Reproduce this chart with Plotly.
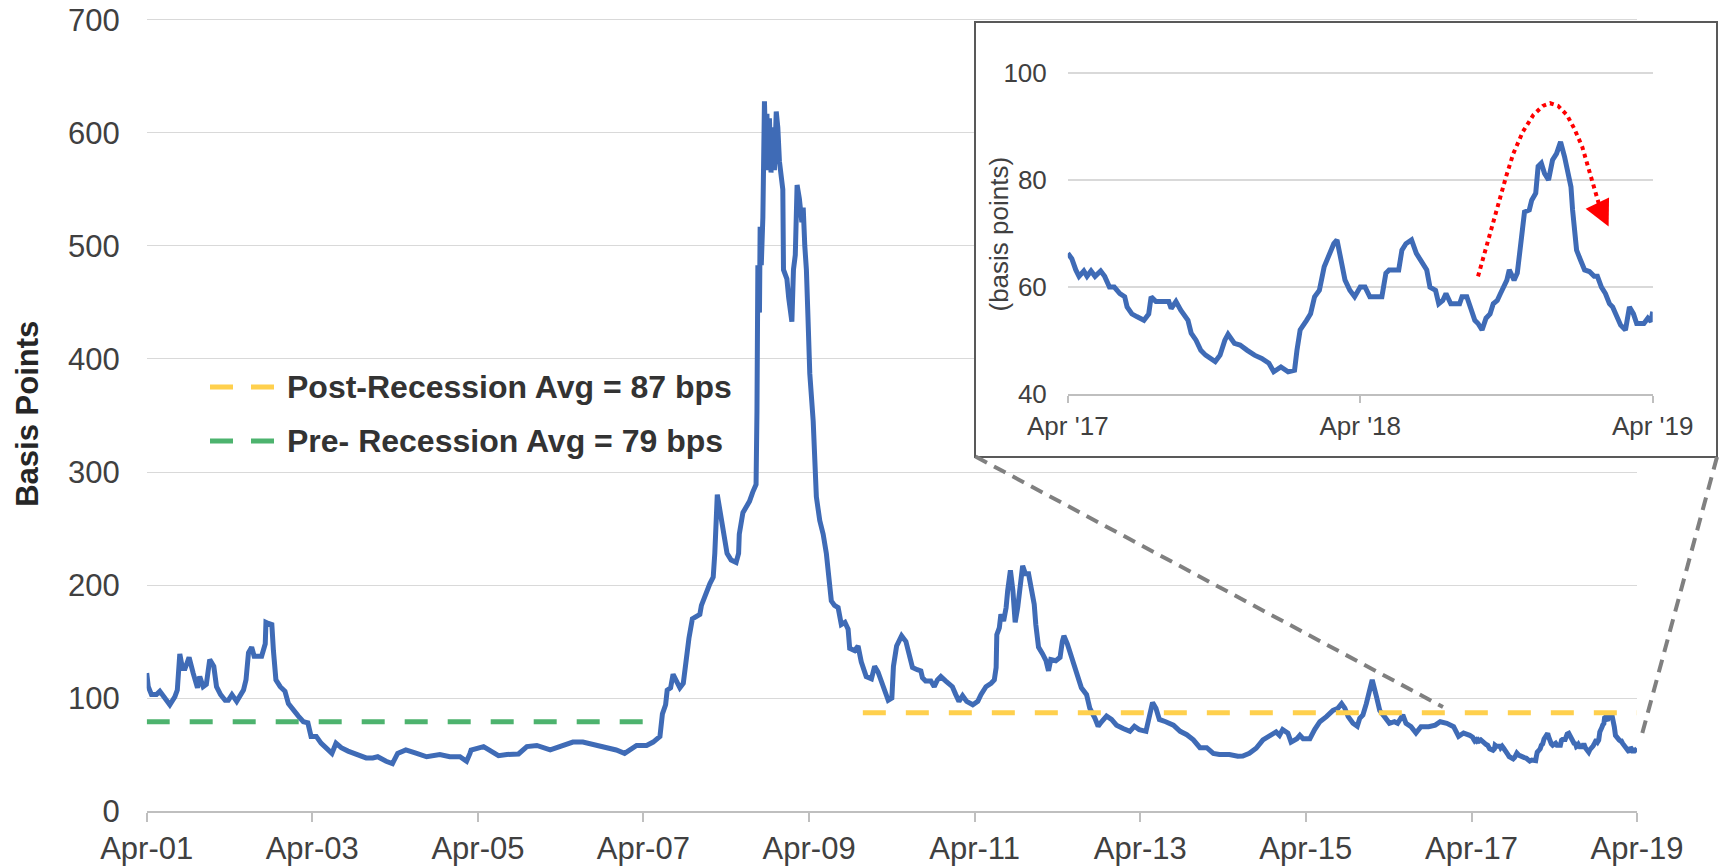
import plotly.graph_objects as go

# ---------------- data ----------------
# Spread in basis points, main history (Apr 2001 - Mar 2017)
main_dates = [
    "2001-04-01", "2001-04-08", "2001-04-22", "2001-05-14", "2001-05-29", "2001-06-20", "2001-07-12",
    "2001-08-03", "2001-08-14", "2001-08-25", "2001-09-06", "2001-09-17", "2001-10-05", "2001-10-23",
    "2001-11-11", "2001-11-21", "2001-12-06", "2001-12-20", "2002-01-04", "2002-01-22", "2002-02-03",
    "2002-02-21", "2002-03-13", "2002-03-27", "2002-04-12", "2002-05-03", "2002-05-18", "2002-06-02",
    "2002-06-13", "2002-06-24", "2002-07-08", "2002-07-19", "2002-08-07", "2002-08-21", "2002-09-06",
    "2002-09-09", "2002-09-20", "2002-10-05", "2002-10-12", "2002-10-23", "2002-11-11", "2002-12-02",
    "2002-12-17", "2003-01-08", "2003-01-30", "2003-02-21", "2003-03-13", "2003-03-27", "2003-04-19",
    "2003-05-10", "2003-06-02", "2003-06-27", "2003-07-15", "2003-08-07", "2003-09-06", "2003-10-12",
    "2003-11-25", "2003-12-24", "2004-01-15", "2004-02-21", "2004-03-20", "2004-04-12", "2004-05-18",
    "2004-07-05", "2004-08-18", "2004-10-15", "2004-11-28", "2005-01-12", "2005-02-10", "2005-02-25",
    "2005-03-02", "2005-04-26", "2005-05-25", "2005-07-01", "2005-08-07", "2005-09-27", "2005-11-03",
    "2005-12-17", "2006-02-14", "2006-03-27", "2006-05-25", "2006-07-08", "2006-08-21", "2006-10-19",
    "2006-12-02", "2007-01-08", "2007-02-03", "2007-03-02", "2007-04-15", "2007-05-14", "2007-06-13",
    "2007-06-24", "2007-07-08", "2007-07-15", "2007-07-30", "2007-08-10", "2007-08-25", "2007-09-09",
    "2007-09-24", "2007-10-08", "2007-10-19", "2007-11-03", "2007-11-21", "2007-12-06", "2007-12-13",
    "2007-12-27", "2008-01-19", "2008-02-03", "2008-02-10", "2008-02-21", "2008-03-02", "2008-03-16",
    "2008-04-04", "2008-04-22", "2008-05-14", "2008-05-25", "2008-05-28", "2008-06-13", "2008-06-27",
    "2008-07-12", "2008-07-26", "2008-08-10", "2008-08-14", "2008-08-18", "2008-08-25", "2008-08-28",
    "2008-09-02", "2008-09-09", "2008-09-16", "2008-09-24", "2008-09-27", "2008-10-01", "2008-10-08",
    "2008-10-15", "2008-10-23", "2008-10-30", "2008-11-07", "2008-11-14", "2008-11-21", "2008-12-06",
    "2008-12-09", "2008-12-24", "2009-01-01", "2009-01-15", "2009-01-22", "2009-01-30", "2009-02-07",
    "2009-02-17", "2009-02-28", "2009-03-06", "2009-03-13", "2009-03-20", "2009-03-27", "2009-04-04",
    "2009-04-19", "2009-04-26", "2009-05-03", "2009-05-18", "2009-06-02", "2009-06-16", "2009-07-01",
    "2009-07-08", "2009-07-22", "2009-08-07", "2009-08-21", "2009-09-06", "2009-09-20", "2009-09-27",
    "2009-10-19", "2009-11-03", "2009-11-17", "2009-12-09", "2010-01-01", "2010-01-15", "2010-01-30",
    "2010-02-25", "2010-03-16", "2010-04-01", "2010-04-08", "2010-04-22", "2010-05-14", "2010-06-02",
    "2010-06-16", "2010-07-01", "2010-07-22", "2010-08-07", "2010-08-14", "2010-08-28", "2010-09-20",
    "2010-10-05", "2010-10-19", "2010-11-03", "2010-11-25", "2010-12-24", "2011-01-08", "2011-01-22",
    "2011-02-07", "2011-02-25", "2011-03-24", "2011-04-15", "2011-04-29", "2011-05-21", "2011-06-13",
    "2011-06-27", "2011-07-05", "2011-07-08", "2011-07-19", "2011-07-26", "2011-08-07", "2011-08-18",
    "2011-08-25", "2011-09-06", "2011-09-17", "2011-09-27", "2011-10-08", "2011-10-19", "2011-10-30",
    "2011-11-11", "2011-11-25", "2011-12-06", "2011-12-20", "2011-12-27", "2012-01-08", "2012-01-26",
    "2012-02-10", "2012-02-21", "2012-03-02", "2012-03-24", "2012-04-12", "2012-04-22", "2012-04-29",
    "2012-05-14", "2012-06-02", "2012-06-16", "2012-07-01", "2012-07-15", "2012-08-07", "2012-08-21",
    "2012-09-13", "2012-09-27", "2012-10-12", "2012-11-03", "2012-11-25", "2012-12-17", "2013-01-15",
    "2013-02-14", "2013-03-06", "2013-03-27", "2013-04-26", "2013-05-07", "2013-05-25", "2013-06-09",
    "2013-06-24", "2013-07-22", "2013-08-25", "2013-09-24", "2013-10-23", "2013-11-21", "2013-12-20",
    "2014-01-19", "2014-02-17", "2014-03-16", "2014-04-29", "2014-06-05", "2014-06-27", "2014-07-26",
    "2014-08-25", "2014-09-24", "2014-10-23", "2014-11-21", "2014-12-06", "2014-12-20", "2015-01-12",
    "2015-01-26", "2015-02-21", "2015-03-06", "2015-03-20", "2015-04-19", "2015-05-10", "2015-06-02",
    "2015-07-01", "2015-07-30", "2015-08-21", "2015-09-06", "2015-09-20", "2015-10-05", "2015-10-26",
    "2015-11-14", "2015-11-25", "2015-12-09", "2015-12-24", "2016-01-08", "2016-01-19", "2016-02-07",
    "2016-02-21", "2016-03-13", "2016-04-04", "2016-04-26", "2016-05-10", "2016-06-02", "2016-06-16",
    "2016-07-08", "2016-07-30", "2016-08-21", "2016-09-24", "2016-10-23", "2016-11-14", "2016-12-13",
    "2017-01-12", "2017-02-03", "2017-02-25", "2017-03-24",
]
main_bps = [
    122, 110, 103, 103, 106, 100, 94,
    101, 107, 139, 126, 126, 136, 122,
    109, 119, 110, 112, 134, 128, 110,
    103, 98, 98, 103, 97, 103, 107,
    116, 140, 145, 137, 137, 137, 148,
    167, 166, 165, 142, 116, 110, 106,
    95, 89, 84, 79, 78, 66, 66,
    60, 56, 51, 60, 56, 53, 50,
    47, 47, 48, 44, 42, 51, 54,
    51, 48, 50, 48, 48, 44, 51,
    54, 57, 54, 49, 50, 50.5, 57,
    58, 54, 57, 61, 61, 59, 56,
    54, 51, 54, 58, 58, 61, 66,
    86, 94, 107, 109, 121, 115, 109,
    113, 138, 153, 170, 172, 174, 182,
    190, 201, 207, 228, 280, 268, 249,
    228, 222, 220, 228, 245, 264, 268,
    274, 282, 289, 354, 483, 441, 517,
    483, 525, 628, 567, 617, 571, 613,
    565, 605, 567, 619, 605, 575, 550,
    479, 471, 454, 433, 479, 492, 554,
    542, 521, 534, 500, 479, 437, 387,
    345, 320, 278, 257, 245, 228, 199,
    186, 182, 180, 165, 167, 161, 144,
    142, 146, 132, 119, 117, 128, 123,
    107, 98, 100, 128, 146, 155, 150,
    139, 127, 125, 124, 118, 115, 115,
    110, 116, 119, 115, 110, 103, 97,
    102, 97, 94, 97, 103, 110, 113,
    116, 127, 156, 162, 174, 168, 180,
    195, 213, 195, 167, 180, 201, 217,
    210, 210, 198, 183, 165, 145, 139,
    133, 124, 134, 133, 136, 150, 155,
    148, 136, 127, 118, 109, 103, 91,
    82, 75, 79, 84, 81, 76, 73,
    70.5, 75, 72, 70.5, 81, 96, 91,
    81, 79, 76, 70.5, 67.5, 63, 56,
    56, 51, 50, 50, 48.5, 48.6, 51,
    55.5, 63, 67, 70, 67, 72, 69,
    61, 64, 67, 64, 64, 72, 79,
    83.5, 89, 91, 95, 91, 83.5, 77.6,
    75, 82, 85, 95, 110, 116, 101,
    89, 83.5, 77.6, 79, 77.6, 85, 77.6,
    74.6, 69, 74.6, 74.6, 76, 79, 77.6,
    74.6, 66, 69, 67,
]

# Recent two years (Apr 2017 - Apr 2019), shown in the zoomed panel
inset_dates = [
    "2017-04-01", "2017-04-06", "2017-04-11", "2017-04-15", "2017-04-21", "2017-04-25", "2017-04-30",
    "2017-05-05", "2017-05-12", "2017-05-17", "2017-05-23", "2017-05-29", "2017-06-05", "2017-06-11",
    "2017-06-14", "2017-06-20", "2017-06-26", "2017-07-05", "2017-07-11", "2017-07-14", "2017-07-20",
    "2017-08-05", "2017-08-08", "2017-08-14", "2017-08-20", "2017-08-29", "2017-09-02", "2017-09-08",
    "2017-09-14", "2017-09-20", "2017-10-02", "2017-10-08", "2017-10-14", "2017-10-18", "2017-10-26",
    "2017-11-02", "2017-11-11", "2017-11-20", "2017-11-29", "2017-12-08", "2017-12-14", "2017-12-23",
    "2018-01-01", "2018-01-09", "2018-01-12", "2018-01-16", "2018-01-24", "2018-01-29", "2018-02-03",
    "2018-02-09", "2018-02-15", "2018-02-21", "2018-02-27", "2018-03-03", "2018-03-07", "2018-03-13",
    "2018-03-19", "2018-03-25", "2018-04-01", "2018-04-07", "2018-04-13", "2018-04-28", "2018-05-03",
    "2018-05-07", "2018-05-19", "2018-05-23", "2018-05-28", "2018-06-04", "2018-06-10", "2018-06-16",
    "2018-06-23", "2018-06-27", "2018-07-04", "2018-07-08", "2018-07-13", "2018-07-17", "2018-07-23",
    "2018-08-03", "2018-08-06", "2018-08-12", "2018-08-17", "2018-08-22", "2018-08-26", "2018-08-31",
    "2018-09-05", "2018-09-10", "2018-09-14", "2018-09-19", "2018-09-23", "2018-09-27", "2018-10-01",
    "2018-10-04", "2018-10-10", "2018-10-14", "2018-10-19", "2018-10-23", "2018-10-29", "2018-11-01",
    "2018-11-06", "2018-11-09", "2018-11-13", "2018-11-17", "2018-11-22", "2018-11-27", "2018-12-02",
    "2018-12-07", "2018-12-12", "2018-12-15", "2018-12-20", "2018-12-22", "2018-12-27", "2019-01-01",
    "2019-01-06", "2019-01-12", "2019-01-18", "2019-01-22", "2019-01-27", "2019-02-01", "2019-02-06",
    "2019-02-10", "2019-02-15", "2019-02-20", "2019-02-26", "2019-03-01", "2019-03-03", "2019-03-08",
    "2019-03-12", "2019-03-21", "2019-03-26", "2019-03-30", "2019-04-01",
]
inset_bps = [
    66.3, 65.3, 63.2, 62, 63, 62, 63,
    62, 63, 62, 60, 60, 58.8, 58.2,
    56.3, 55, 54.5, 53.8, 55, 58.2, 57.3,
    57.3, 56, 57.3, 55.7, 53.8, 51.4, 50.1,
    48.2, 47.3, 46.1, 47.3, 50.1, 51.2, 49.5,
    49.2, 48.2, 47.3, 46.7, 45.8, 44.2, 45.1,
    44.2, 44.5, 48.2, 52, 53.8, 55, 58.2,
    59.4, 63.8, 65.7, 68.1, 68.8, 65.7, 61.3,
    59.4, 58.2, 60, 60, 58.2, 58.2, 62.6,
    63.2, 63.2, 66.9, 68.1, 68.8, 66.3, 65,
    63.2, 60, 59.4, 56.9, 57.5, 58.8, 56.9,
    56.9, 58.2, 58.2, 55.7, 53.8, 53.2, 52,
    54.2, 55, 56.9, 57.5, 58.8, 60.3, 61.3,
    63.2, 61.3, 62.6, 70, 74, 74.4, 76.2,
    77.5, 82.5, 83.1, 81.2, 80, 83.7, 84.9,
    87.1, 84.3, 81.8, 78.7, 74.4, 66.9, 65,
    63.2, 62.9, 62, 62, 60, 58.8, 56.9,
    56.3, 54.5, 52.9, 52, 55, 56.3, 55,
    53.2, 53.2, 54.2, 53.6, 55.4,
]

# Period averages
pre_avg = 79
pre_period = ["2001-04-01", "2007-06-13"]
post_avg = 87
post_period = ["2009-11-24", "2019-04-01"]

# Hand-drawn style arc over the late-2018 spike (zoomed panel)
arc_dates = [
    "2018-08-26", "2018-09-03", "2018-09-12", "2018-09-21", "2018-09-30", "2018-10-09",
    "2018-10-21", "2018-11-03", "2018-11-15", "2018-11-24", "2018-12-04", "2018-12-15",
    "2018-12-24", "2019-01-03", "2019-01-10", "2019-01-18", "2019-01-26",
]
arc_bps = [62, 66.3, 71.3, 76.2, 80.6, 84.9, 89, 92.1, 93.8, 94.3, 93.8, 92.1,
           89.6, 86.2, 82.5, 78.1, 74.4]
arc_tip = ("2019-02-05", 71.3)

# Axis ticks
main_tick_dates = ["2001-04-01", "2003-04-01", "2005-04-01", "2007-04-01", "2009-04-01",
                   "2011-04-01", "2013-04-01", "2015-04-01", "2017-04-01", "2019-04-01"]
main_tick_text = ["Apr-01", "Apr-03", "Apr-05", "Apr-07", "Apr-09",
                  "Apr-11", "Apr-13", "Apr-15", "Apr-17", "Apr-19"]
main_y_ticks = [0, 100, 200, 300, 400, 500, 600, 700]
inset_tick_dates = ["2017-04-01", "2018-04-01", "2019-04-01"]
inset_tick_text = ["Apr '17", "Apr '18", "Apr '19"]
inset_y_ticks = [40, 60, 80, 100]

# ---------------- styling ----------------
W, H = 1721, 866
FONT = "Liberation Sans, Arial, sans-serif"
BLUE = "#3F6BB6"
GREEN = "#4DB36E"
GOLD = "#FFD04D"
GRID = "#D9D9D9"
AXIS = "#BFBFBF"
TEXT = "#404040"


def fx(px):
    return px / W


def fy(px):
    return 1 - px / H


fig = go.Figure()

# Main series (full history including the last two years)
fig.add_trace(go.Scatter(
    x=main_dates + inset_dates, y=main_bps + inset_bps, mode="lines",
    line=dict(color=BLUE, width=5), hoverinfo="x+y", xaxis="x", yaxis="y",
))
# Average lines
fig.add_trace(go.Scatter(
    x=pre_period, y=[pre_avg, pre_avg], mode="lines",
    line=dict(color=GREEN, width=5, dash="23px,20px"), xaxis="x", yaxis="y",
))
fig.add_trace(go.Scatter(
    x=post_period, y=[post_avg, post_avg], mode="lines",
    line=dict(color=GOLD, width=5, dash="23px,20px"), xaxis="x", yaxis="y",
))

# Frame of the zoomed panel (its own subplot so its background hides the grid behind it)
fig.add_trace(go.Scatter(x=[], y=[], xaxis="x2", yaxis="y2", hoverinfo="skip"))

# Zoomed panel
fig.add_trace(go.Scatter(
    x=inset_dates, y=inset_bps, mode="lines",
    line=dict(color=BLUE, width=5), xaxis="x3", yaxis="y3",
))
fig.add_trace(go.Scatter(
    x=arc_dates, y=arc_bps, mode="lines",
    line=dict(color="#FF0000", width=4, dash="dot"), xaxis="x3", yaxis="y3", hoverinfo="skip",
))

fig.update_layout(
    width=W, height=H,
    margin=dict(l=0, r=0, t=0, b=0, autoexpand=False),
    paper_bgcolor="white", plot_bgcolor="white",
    showlegend=False,
    font=dict(family=FONT, color=TEXT),
    xaxis=dict(
        domain=[fx(146.7), fx(1637)], anchor="y", type="date", automargin=False,
        range=["2001-04-01", "2019-04-01"],
        tickvals=main_tick_dates, ticktext=main_tick_text,
        ticks="outside", ticklen=9, tickwidth=2, tickcolor=AXIS,
        showline=True, linecolor=AXIS, linewidth=2,
        showgrid=False, zeroline=False,
        tickfont=dict(size=31, color=TEXT, family=FONT),
    ),
    yaxis=dict(
        domain=[fy(811), fy(16.6)], anchor="x", automargin=False,
        range=[0, 703], tickvals=main_y_ticks,
        showgrid=True, gridcolor=GRID, gridwidth=1.3,
        zeroline=False, showline=False, ticks="",
        ticklabelstandoff=26,
        tickfont=dict(size=31, color=TEXT, family=FONT),
        title=dict(text="Basis Points", standoff=20,
                   font=dict(size=31, color="#262626", family=FONT, weight="bold")),
    ),
    xaxis2=dict(
        domain=[fx(975.5), fx(1716.3)], anchor="y2", range=[0, 1], automargin=False,
        showline=True, mirror=True, linecolor="#595959", linewidth=2,
        showgrid=False, zeroline=False, showticklabels=False, ticks="",
    ),
    yaxis2=dict(
        domain=[fy(456), fy(23.3)], anchor="x2", range=[0, 1], automargin=False,
        showline=True, mirror=True, linecolor="#595959", linewidth=2,
        showgrid=False, zeroline=False, showticklabels=False, ticks="",
    ),
    xaxis3=dict(
        domain=[fx(1067.8), fx(1652.7)], anchor="y3", type="date", automargin=False,
        range=["2017-04-01", "2019-04-01"],
        tickvals=inset_tick_dates, ticktext=inset_tick_text,
        ticks="outside", ticklen=7, tickwidth=2, tickcolor=AXIS,
        showline=True, linecolor=AXIS, linewidth=2,
        showgrid=False, zeroline=False,
        tickfont=dict(size=26, color=TEXT, family=FONT),
    ),
    yaxis3=dict(
        domain=[fy(394.3), fy(70.0)], anchor="x3", automargin=False,
        range=[40, 100.5], tickvals=inset_y_ticks,
        showgrid=True, gridcolor=GRID, gridwidth=1.5,
        zeroline=False, showline=False, ticks="",
        ticklabelstandoff=20,
        tickfont=dict(size=26, color=TEXT, family=FONT),
    ),
)

# Dashed connectors from the zoomed panel down to the recent period
for (x0, y0, x1, y1) in [(975.5, 456.5, 1443, 707), (1717, 457, 1641, 738)]:
    fig.add_shape(type="line", xref="paper", yref="paper",
                  x0=fx(x0), y0=fy(y0), x1=fx(x1), y1=fy(y1),
                  line=dict(color="#808080", width=4, dash="13px,8px"), layer="above")

# Legend for the average lines
legend_items = [
    (f"Post-Recession Avg = {post_avg} bps", GOLD, 387),
    (f"Pre- Recession Avg = {pre_avg} bps", GREEN, 441),
]
for text, color, ypx in legend_items:
    fig.add_shape(type="line", xref="paper", yref="paper",
                  x0=fx(210), x1=fx(275), y0=fy(ypx), y1=fy(ypx),
                  line=dict(color=color, width=5, dash="23px,18px"))
    fig.add_annotation(xref="paper", yref="paper", x=fx(285), y=fy(ypx),
                       xanchor="left", yanchor="middle", showarrow=False, text=text,
                       font=dict(size=32, color="#333333", family=FONT, weight="bold"))

# Zoomed panel axis title
fig.add_annotation(xref="paper", yref="paper", x=fx(998), y=fy(233.5),
                   xanchor="center", yanchor="middle", showarrow=False,
                   text="(basis points)", textangle=-90,
                   font=dict(size=26, color=TEXT, family=FONT))

# Arrow head at the end of the arc
fig.add_annotation(xref="x3", yref="y3", axref="x3", ayref="y3",
                   x=arc_tip[0], y=arc_tip[1], ax=arc_dates[-1], ay=arc_bps[-1],
                   text="", showarrow=True, arrowhead=2, arrowsize=1.3,
                   arrowwidth=4, arrowcolor="#FF0000", standoff=0)

fig.write_html("out.html")
